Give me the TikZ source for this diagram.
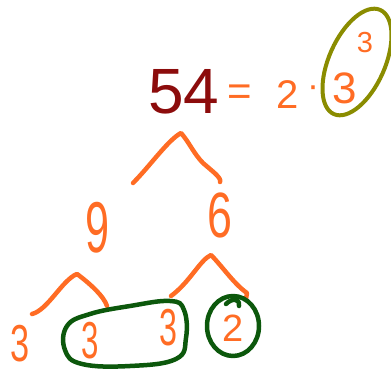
\documentclass[tikz,border=0pt]{standalone}
\usepackage{fontspec}
\setmainfont{Liberation Sans}
\usepackage{graphicx}
\definecolor{pen}{RGB}{255,108,36}
\definecolor{maroonpen}{RGB}{140,12,12}
\definecolor{olivepen}{RGB}{138,140,0}
\definecolor{greenpen}{RGB}{12,88,12}
\newcommand{\narrowtxt}[2][.72]{\scalebox{#1}[1]{#2}}
\newcommand{\fs}[1]{\fontsize{#1}{#1}\selectfont}
\begin{document}
\begin{tikzpicture}[x=1pt,y=-1pt,
  digit/.style={text=pen, inner sep=0pt},
  branch/.style={draw=pen, line width=4.5pt, line cap=round, line join=round},
  ring/.style={draw=greenpen, line width=4.5pt, line cap=round, line join=round},
  oval/.style={draw=olivepen, line width=4pt}]
\useasboundingbox (0,0) rectangle (391,369);
% equation
\node[digit, text=maroonpen, font=\fs{64}] (n54) at (184,92) {54};
\node[digit, font=\fs{42}] (eq) at (240,95) {=};
\node[digit, font=\fs{40}] (two) at (288,95) {2};
\node[digit, font=\fs{36}] (dot) at (313,92) {·};
\node[digit, font=\fs{44}] (three) at (345,88) {3};
\node[digit, font=\fs{29}] (expo) at (365,43) {3};
\draw[oval, rotate around={-24:(357,62)}] (357,62) ellipse [x radius=28pt, y radius=57pt];
% tree numbers
\node[digit, font=\fs{72}] (nine) at (98,228) {\narrowtxt[.6]{9}};
\node[digit, font=\fs{64}] (six) at (220,215) {\narrowtxt[.7]{6}};
\node[digit, font=\fs{52}] (a) at (20,344) {\narrowtxt[.66]{3}};
\node[digit, font=\fs{52}] (b) at (90,341) {\narrowtxt[.6]{3}};
\node[digit, font=\fs{52}] (c) at (168,328) {\narrowtxt[.62]{3}};
\node[digit, font=\fs{38}] (d) at (233,328) {2};
% branch points
\coordinate (t1) at (133,183); \coordinate (t0) at (181,133); \coordinate (t2) at (220,182);
\coordinate (l1) at (32,314); \coordinate (l0) at (77,274); \coordinate (l2) at (107,306);
\coordinate (r1) at (171,296); \coordinate (r0) at (211,255); \coordinate (r2) at (246,299);
\draw[branch] (t1) .. controls (150,166) and (168,140) .. (t0)
  .. controls (189,142) and (194,154) .. (203,163) .. controls (212,171) and (222,178) .. (t2);
\draw[branch] (l1) .. controls (48,310) and (62,280) .. (l0)
  .. controls (88,282) and (104,296) .. (l2);
\draw[branch] (r1) .. controls (190,282) and (200,260) .. (r0)
  .. controls (222,266) and (234,284) .. (247,293) -- (r2);
% green rings
\draw[ring] plot[smooth cycle, tension=.7] coordinates {(90,314) (130,306) (170,301) (184,310) (186,338) (176,359) (130,366) (82,364) (65,350) (67,326)};
\draw[ring] (233,326) ellipse [x radius=26pt, y radius=30pt];
\draw[ring] (226,304) .. controls (232,298) and (240,298) .. (239,306);
\end{tikzpicture}
\end{document}
